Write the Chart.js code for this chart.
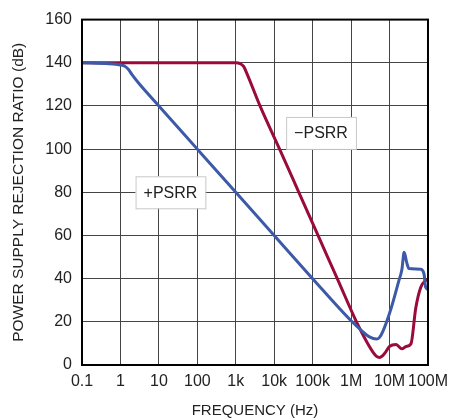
<!DOCTYPE html>
<html>
<head>
  <title>PSRR vs Frequency</title>
  <script src="https://cdn.jsdelivr.net/npm/chart.js"></script>
  <style>
    body {
      margin: 0;
      background-color: #ffffff;
    }
    #box {
      width: 455px;
      height: 420px;
    }
  </style>
</head>
<body>
  <div id="box">
    <canvas id="grafico" width="455" height="420"></canvas>
  </div>

  <script>
    // +PSRR (blue)
    var posFreq = [0.1, 0.5, 1, 1.3, 1.6, 2, 3, 10, 100, 1e3, 1e4, 1e5, 1e6, 2e6, 3e6, 4.6e6, 5.5e6, 6.8e6, 1.1e7, 1.7e7, 2.1e7, 2.4e7, 2.8e7, 3.2e7, 6.5e7, 7.9e7, 8.7e7, 1e8];
    var posPsrr = [140, 139.6, 139, 138.4, 137, 134.5, 130.5, 120, 100, 80, 60, 40, 20.5, 15.5, 13, 12, 12.8, 15.8, 26.3, 38.3, 44.4, 52.2, 47.4, 44.7, 44.4, 42.1, 36, 35];

    // -PSRR (red)
    var negFreq = [0.1, 1000, 1300, 1600, 2000, 4270, 13800, 43700, 138000, 437000, 1.38e6, 2.5e6, 3.7e6, 4.6e6, 5.5e6, 7.4e6, 1e7, 1.48e7, 2.1e7, 2.7e7, 3.6e7, 4.8e7, 6.5e7, 8.7e7, 1e8];
    var negPsrr = [140, 140, 139.6, 138.3, 134.5, 120, 100, 80, 60, 40, 20, 11, 6, 4, 3.5, 5.3, 8.6, 9.5, 7.5, 8.6, 9.8, 26.3, 36, 39.1, 39.5];

    var decadeTicks = [0.1, 1, 10, 100, 1e3, 1e4, 1e5, 1e6, 1e7, 1e8];
    var decadeLabels = ["0.1", "1", "10", "100", "1k", "10k", "100k", "1M", "10M", "100M"];

    // curve labels, in data coordinates
    var labelText = ["+PSRR", "\u2212PSRR"];
    var labelFreq = [20, 165000];
    var labelDb = [80, 107.5];

    function toPoints(xs, ys) {
      var out = [];
      for (var i = 0; i < xs.length; i++) out.push({ x: xs[i], y: ys[i] });
      return out;
    }

    var fonte = "'Liberation Sans', Arial, sans-serif";

    var moldura = {
      id: "moldura",
      afterDatasetsDraw: function (chart) {
        var ctx = chart.ctx;
        var a = chart.chartArea;
        var xs = chart.scales.x, ys = chart.scales.y;
        ctx.save();
        ctx.font = "16px " + fonte;
        ctx.textAlign = "center";
        ctx.textBaseline = "middle";
        for (var i = 0; i < labelText.length; i++) {
          var cx = xs.getPixelForValue(labelFreq[i]);
          var cy = ys.getPixelForValue(labelDb[i]);
          var w = ctx.measureText(labelText[i]).width + 16;
          var h = 32;
          ctx.fillStyle = "#ffffff";
          ctx.fillRect(cx - w / 2, cy - h / 2, w, h);
          ctx.strokeStyle = "#c8c8c8";
          ctx.lineWidth = 1;
          ctx.strokeRect(cx - w / 2 + 0.5, cy - h / 2 + 0.5, w, h);
          ctx.fillStyle = "#222222";
          ctx.fillText(labelText[i], cx, cy + 1);
        }
        ctx.strokeStyle = "#000000";
        ctx.lineWidth = 2;
        ctx.strokeRect(a.left, a.top, a.right - a.left, a.bottom - a.top);
        ctx.restore();
      }
    };

    var ctx = document.getElementById("grafico").getContext("2d");
    var chart = new Chart(ctx, {
      type: "line",
      data: {
        datasets: [
          {
            label: "+PSRR",
            data: toPoints(posFreq, posPsrr),
            borderColor: "#3d5aa8",
            borderWidth: 3,
            pointRadius: 0,
            cubicInterpolationMode: "monotone"
          },
          {
            label: "-PSRR",
            data: toPoints(negFreq, negPsrr),
            borderColor: "#9a0a3a",
            borderWidth: 3,
            pointRadius: 0,
            cubicInterpolationMode: "monotone"
          }
        ]
      },
      options: {
        responsive: false,
        animation: false,
        layout: { padding: { top: 14, right: 22, left: 0, bottom: 0 } },
        plugins: {
          legend: { display: false },
          tooltip: { enabled: false }
        },
        scales: {
          x: {
            type: "logarithmic",
            min: 0.1,
            max: 1e8,
            afterBuildTicks: function (scale) {
              scale.ticks = decadeTicks.map(function (v) { return { value: v }; });
            },
            afterFit: function (scale) { scale.height = 55; },
            grid: { color: "#444444", lineWidth: 1, drawTicks: false },
            border: { display: false },
            ticks: {
              autoSkip: false,
              maxRotation: 0,
              padding: 7,
              color: "#222222",
              font: { family: fonte, size: 16 },
              callback: function (value) {
                var i = decadeTicks.indexOf(value);
                return i >= 0 ? decadeLabels[i] : "";
              }
            },
            title: {
              display: true,
              text: "FREQUENCY (Hz)",
              color: "#222222",
              font: { family: fonte, size: 15 },
              padding: { top: 2, bottom: 0 }
            }
          },
          y: {
            min: 0,
            max: 160,
            afterFit: function (scale) { scale.width = 82; },
            grid: { color: "#444444", lineWidth: 1, drawTicks: false },
            border: { display: false },
            ticks: {
              stepSize: 20,
              padding: 10,
              color: "#222222",
              font: { family: fonte, size: 16 }
            },
            title: {
              display: true,
              text: "POWER SUPPLY REJECTION RATIO (dB)",
              color: "#222222",
              font: { family: fonte, size: 15.5 },
              padding: { top: 9, bottom: 0 }
            }
          }
        }
      },
      plugins: [moldura]
    });
  </script>
</body>
</html>
